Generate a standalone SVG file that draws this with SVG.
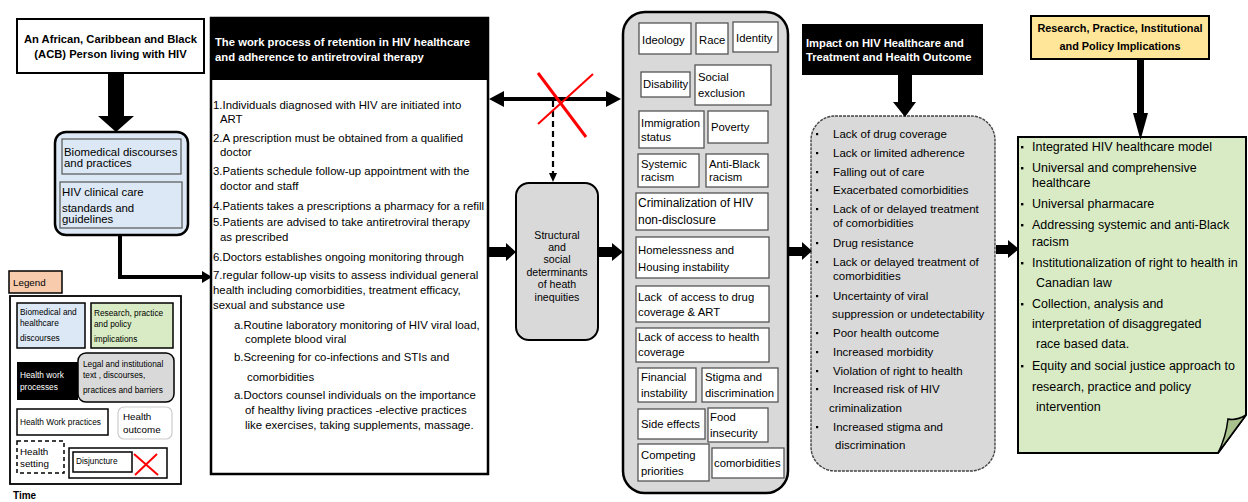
<svg xmlns="http://www.w3.org/2000/svg" width="1248" height="502" viewBox="0 0 1248 502">
<style>
text{font-family:"Liberation Sans",Arial,sans-serif;fill:#000}
.b{font-weight:bold}
.w{fill:#fff}
.f11{font-size:11.3px}
.f114{font-size:11.4px}
.f12{font-size:12.5px}
.lg{font-size:8.3px}
.lg2{font-size:9.8px}
.ib{fill:#fff;stroke:#555;stroke-width:1.3}
.blk{fill:#000}
.red{stroke:#f00;fill:none}
</style>
<rect width="1248" height="502" fill="#fff"/>

<!-- Person -->
<g id="person">
<rect x="17" y="19" width="187" height="54" fill="#fff" stroke="#000" stroke-width="2"/>
<text class="b" font-size="11.2" x="110.5" y="43" text-anchor="middle">An African, Caribbean and Black</text>
<text class="b" font-size="11.2" x="110.5" y="58" text-anchor="middle">(ACB) Person living with HIV</text>
</g>

<!-- Biomedical -->
<g id="biomedical">
<rect x="55" y="132" width="133" height="103" rx="11" fill="#dce8f5" stroke="#000" stroke-width="2.5"/>
<rect x="62" y="139" width="119" height="35" fill="#dce8f5" stroke="#555" stroke-width="1.2"/>
<text class="f114" x="64" y="156">Biomedical discourses</text>
<text class="f114" x="64" y="167">and practices</text>
<rect x="60" y="182" width="122" height="46" fill="#dce8f5" stroke="#555" stroke-width="1.2"/>
<text class="f114" x="62" y="196">HIV clinical care</text>
<text class="f114" x="62" y="212">standards and</text>
<text class="f114" x="62" y="223">guidelines</text>
</g>

<!-- Work process -->
<g id="workprocess">
<rect x="211" y="18" width="277" height="456" fill="#fff" stroke="#000" stroke-width="2.5"/>
<rect x="211" y="18" width="277" height="62" fill="#000"/>
<text class="b w" font-size="11.25" x="215" y="46">The work process of retention in HIV healthcare</text>
<text class="b w" font-size="11.25" x="215" y="61">and adherence to antiretroviral therapy</text>
<g class="f114">
<text x="213" y="109">1.Individuals diagnosed with HIV are initiated into</text>
<text x="220" y="123">ART</text>
<text x="213" y="142">2.A prescription must be obtained from a qualified</text>
<text x="220" y="156">doctor</text>
<text x="213" y="175">3.Patients schedule follow-up appointment with the</text>
<text x="220" y="190">doctor and staff</text>
<text x="213" y="210">4.Patients takes a prescriptions a pharmacy for a refill</text>
<text x="213" y="226">5.Patients are advised to take antiretroviral therapy</text>
<text x="220" y="241">as prescribed</text>
<text x="213" y="261">6.Doctors establishes ongoing monitoring through</text>
<text x="213" y="279">7.regular follow-up visits to assess individual general</text>
<text x="213" y="294">health including comorbidities, treatment efficacy,</text>
<text x="213" y="309">sexual and substance use</text>
<text x="234" y="329">a.Routine laboratory monitoring of HIV viral load,</text>
<text x="245" y="343">complete blood viral</text>
<text x="234" y="361">b.Screening for co-infections and STIs and</text>
<text x="247" y="381">comorbidities</text>
<text x="234" y="399">a.Doctors counsel individuals on the importance</text>
<text x="245" y="414">of healthy living practices -elective practices</text>
<text x="245" y="429">like exercises, taking supplements, massage.</text>
</g>
</g>

<!-- Structural -->
<g id="structural">
<rect x="516" y="183" width="82" height="157" rx="13" fill="#d9d9d9" stroke="#000" stroke-width="2"/>
<g font-size="10.6" text-anchor="middle">
<text x="557" y="239">Structural</text>
<text x="557" y="251">and</text>
<text x="557" y="263">social</text>
<text x="557" y="276">determinants</text>
<text x="557" y="288">of heath</text>
<text x="557" y="301">inequities</text>
</g>
</g>

<!-- Determinants -->
<g id="determinants">
<rect x="623" y="12" width="165" height="481" rx="22" fill="#d9d9d9" stroke="#000" stroke-width="2.5"/>
<g class="f11">
<rect class="ib" x="639" y="23" width="52" height="31"/><text x="642" y="44">Ideology</text>
<rect class="ib" x="696" y="23" width="32" height="31"/><text x="699" y="44">Race</text>
<rect class="ib" x="733" y="22" width="45" height="30"/><text x="736" y="42">Identity</text>
<rect class="ib" x="641" y="72" width="49" height="25"/><text x="643" y="88">Disability</text>
<rect class="ib" x="695" y="65" width="76" height="40"/><text x="698" y="81">Social</text><text x="698" y="97">exclusion</text>
<rect class="ib" x="639" y="111" width="65" height="37"/><text x="641" y="127">Immigration</text><text x="641" y="141">status</text>
<rect class="ib" x="708" y="111" width="60" height="32"/><text x="711" y="131">Poverty</text>
<rect class="ib" x="638" y="154" width="61" height="33"/><text x="641" y="168">Systemic</text><text x="641" y="181">racism</text>
<rect class="ib" x="706" y="154" width="62" height="33"/><text x="709" y="168">Anti-Black</text><text x="709" y="181">racism</text>
<rect class="ib" x="636" y="193" width="132" height="37"/><text x="638" y="207" font-size="12">Criminalization of HIV</text><text x="638" y="224" font-size="12">non-disclosure</text>
<rect class="ib" x="636" y="237" width="133" height="41"/><text x="638" y="254">Homelessness and</text><text x="638" y="271">Housing instability</text>
<rect class="ib" x="636" y="286" width="133" height="36"/><text x="638" y="301" xml:space="preserve">Lack  of access to drug</text><text x="638" y="316">coverage &amp; ART</text>
<rect class="ib" x="636" y="328" width="133" height="34"/><text x="638" y="341">Lack of access to health</text><text x="638" y="356">coverage</text>
<rect class="ib" x="638" y="368" width="58" height="34"/><text x="641" y="381">Financial</text><text x="641" y="397">instability</text>
<rect class="ib" x="702" y="368" width="76" height="34"/><text x="705" y="381">Stigma and</text><text x="705" y="397">discrimination</text>
<rect class="ib" x="638" y="409" width="67" height="30"/><text x="641" y="428">Side effects</text>
<rect class="ib" x="708" y="408" width="60" height="34"/><text x="710" y="421">Food</text><text x="710" y="437">insecurity</text>
<rect class="ib" x="638" y="444" width="71" height="37"/><text x="641" y="459">Competing</text><text x="641" y="475">priorities</text>
<rect class="ib" x="712" y="448" width="72" height="30"/><text x="714" y="467">comorbidities</text>
</g>
</g>

<!-- Impact header -->
<g id="impact-header">
<rect x="802" y="24" width="181" height="51" fill="#000"/>
<text class="b w" font-size="11.2" x="806" y="47">Impact on HIV Healthcare and</text>
<text class="b w" font-size="11.2" x="806" y="61">Treatment and Health Outcome</text>
</g>

<!-- Impact box -->
<g id="impact">
<rect x="811" y="116" width="184" height="355" rx="24" fill="#d9d9d9" stroke="#444" stroke-width="1.4" stroke-dasharray="3 1"/>
<g font-size="11.5">
<text x="833" y="138">Lack of drug coverage</text>
<text x="833" y="157">Lack or limited adherence</text>
<text x="833" y="176">Falling out of care</text>
<text x="833" y="194">Exacerbated comorbidities</text>
<text x="833" y="213">Lack of or delayed treatment</text>
<text x="833" y="227">of comorbidities</text>
<text x="833" y="247">Drug resistance</text>
<text x="833" y="266">Lack or delayed treatment of</text>
<text x="833" y="280">comorbidities</text>
<text x="833" y="300">Uncertainty of viral</text>
<text x="832" y="318">suppression or undetectability</text>
<text x="833" y="337">Poor health outcome</text>
<text x="833" y="356">Increased morbidity</text>
<text x="833" y="375">Violation of right to health</text>
<text x="833" y="393">Increased risk of HIV</text>
<text x="829" y="412">criminalization</text>
<text x="833" y="431">Increased stigma and</text>
<text x="835" y="449">discrimination</text>
</g>
<g fill="#000">
<rect x="816" y="133" width="2.2" height="2.2"/>
<rect x="816" y="152" width="2.2" height="2.2"/>
<rect x="816" y="171" width="2.2" height="2.2"/>
<rect x="816" y="189" width="2.2" height="2.2"/>
<rect x="816" y="208" width="2.2" height="2.2"/>
<rect x="816" y="242" width="2.2" height="2.2"/>
<rect x="816" y="261" width="2.2" height="2.2"/>
<rect x="816" y="295" width="2.2" height="2.2"/>
<rect x="816" y="332" width="2.2" height="2.2"/>
<rect x="816" y="351" width="2.2" height="2.2"/>
<rect x="816" y="370" width="2.2" height="2.2"/>
<rect x="816" y="388" width="2.2" height="2.2"/>
<rect x="816" y="426" width="2.2" height="2.2"/>
</g>
</g>

<!-- Research header -->
<g id="research-header">
<rect x="1031" y="16" width="178" height="43" fill="#ffe699" stroke="#000" stroke-width="2"/>
<text class="b" font-size="10.9" x="1120" y="32" text-anchor="middle">Research, Practice, Institutional</text>
<text class="b" font-size="10.9" x="1120" y="50" text-anchor="middle">and Policy Implications</text>
</g>

<!-- Research box -->
<g id="research">
<path d="M1018,137 H1246 V415 L1218,453 H1018 Z" fill="#d8ebc4" stroke="#000" stroke-width="2"/>
<path d="M1218,453 L1246,415 Q1236,421 1228,419 Q1226,437 1218,453 Z" fill="#a9c18c" stroke="#000" stroke-width="1.5"/>
<g font-size="12.5">
<text x="1032" y="151">Integrated HIV healthcare model</text>
<text x="1032" y="172">Universal and comprehensive</text>
<text x="1032" y="187">healthcare</text>
<text x="1032" y="208">Universal pharmacare</text>
<text x="1032" y="229">Addressing systemic and anti-Black</text>
<text x="1032" y="246">racism</text>
<text x="1032" y="267">Institutionalization of right to health in</text>
<text x="1036" y="287">Canadian law</text>
<text x="1032" y="308">Collection, analysis and</text>
<text x="1032" y="328">interpretation of disaggregated</text>
<text x="1036" y="348">race based data.</text>
<text x="1032" y="370">Equity and social justice approach to</text>
<text x="1032" y="391">research, practice and policy</text>
<text x="1036" y="411">intervention</text>
</g>
<g fill="#000">
<rect x="1021" y="146" width="2.4" height="2.4"/>
<rect x="1021" y="167" width="2.4" height="2.4"/>
<rect x="1021" y="203" width="2.4" height="2.4"/>
<rect x="1021" y="224" width="2.4" height="2.4"/>
<rect x="1021" y="262" width="2.4" height="2.4"/>
<rect x="1021" y="303" width="2.4" height="2.4"/>
<rect x="1021" y="365" width="2.4" height="2.4"/>
</g>
</g>

<!-- Legend -->
<g id="legend">
<rect x="9" y="271" width="53" height="22" fill="#f8cbad" stroke="#000" stroke-width="1.5"/>
<text class="lg2" x="13" y="286">Legend</text>
<rect x="10" y="296" width="171" height="188" fill="#fff" stroke="#000" stroke-width="1.8"/>
<rect x="17" y="303" width="68" height="45" fill="#dce8f5" stroke="#000" stroke-width="1.5"/>
<text class="lg" x="20" y="315">Biomedical and</text>
<text class="lg" x="20" y="326">healthcare</text>
<text class="lg" x="20" y="341">discourses</text>
<rect x="91" y="303" width="82" height="45" fill="#d8ebc4" stroke="#000" stroke-width="1.5"/>
<text class="lg" x="94" y="316">Research, practice</text>
<text class="lg" x="94" y="327">and policy</text>
<text class="lg" x="94" y="342">implications</text>
<rect x="17" y="362" width="61" height="38" fill="#000"/>
<text class="lg w" x="20" y="378">Health work</text>
<text class="lg w" x="20" y="390">processes</text>
<rect x="78" y="353" width="96" height="49" rx="8" fill="#d9d9d9" stroke="#000" stroke-width="1.5"/>
<text class="lg" x="83" y="367">Legal and institutional</text>
<text class="lg" x="83" y="378">text , discourses,</text>
<text class="lg" x="83" y="393">practices and barriers</text>
<rect x="17" y="409" width="91" height="26" fill="#fff" stroke="#000" stroke-width="1.5"/>
<text class="lg" x="20" y="425">Health Work practices</text>
<rect x="118" y="407" width="54" height="32" rx="6" fill="#fff" stroke="#ccc" stroke-width="1.2"/>
<text class="lg2" x="123" y="420">Health</text>
<text class="lg2" x="123" y="433">outcome</text>
<rect x="17" y="441" width="47" height="32" fill="#fff" stroke="#000" stroke-width="1.5" stroke-dasharray="4 3"/>
<text class="lg2" x="20" y="455">Health</text>
<text class="lg2" x="20" y="467">setting</text>
<rect x="69" y="448" width="98" height="30" fill="#fff" stroke="#000" stroke-width="1.5"/>
<rect x="73" y="452" width="59" height="20" fill="#fff" stroke="#000" stroke-width="1.5"/>
<text class="lg" x="76" y="464">Disjuncture</text>
<line class="red" x1="134" y1="454" x2="158" y2="475" stroke-width="2"/>
<line class="red" x1="157" y1="454" x2="135" y2="475" stroke-width="2"/>
<text class="b" font-size="10" x="13" y="499">Time</text>
</g>

<!-- Connectors -->
<g id="connectors">
<polygon class="blk" points="108,73 124,73 124,116 134,116 116,132 98,116 108,116"/>
<polyline points="120,235 120,277 203,277" fill="none" stroke="#000" stroke-width="4"/>
<polygon class="blk" points="202,271 212,277 202,283"/>
<line x1="500" y1="99" x2="609" y2="99" stroke="#000" stroke-width="4"/>
<polygon class="blk" points="489,99 504,91 504,107"/>
<polygon class="blk" points="621,99 606,91 606,107"/>
<line x1="553" y1="101" x2="553" y2="174" stroke="#000" stroke-width="2.2" stroke-dasharray="6 4"/>
<polygon class="blk" points="549,173 557,173 553,182"/>
<line class="red" x1="538" y1="73" x2="586" y2="137" stroke-width="3"/>
<line class="red" x1="593" y1="74" x2="538" y2="124" stroke-width="2"/>
<polygon class="blk" points="489,247 506,247 506,243 516,252 506,261 506,257 489,257"/>
<polygon class="blk" points="599,247 612,247 612,243 623,252 612,261 612,257 599,257"/>
<polygon class="blk" points="789,247 802,247 802,242 812,251 802,260 802,256 789,256"/>
<polygon class="blk" points="996,245 1008,245 1008,240 1019,249 1008,258 1008,254 996,254"/>
<polygon class="blk" points="898,75 912,75 912,102 916,102 905,117 893,102 898,102"/>
<polygon class="blk" points="1137,59 1144,59 1144,113 1148,113 1140.5,140 1133,113 1137,113"/>
</g>
</svg>
